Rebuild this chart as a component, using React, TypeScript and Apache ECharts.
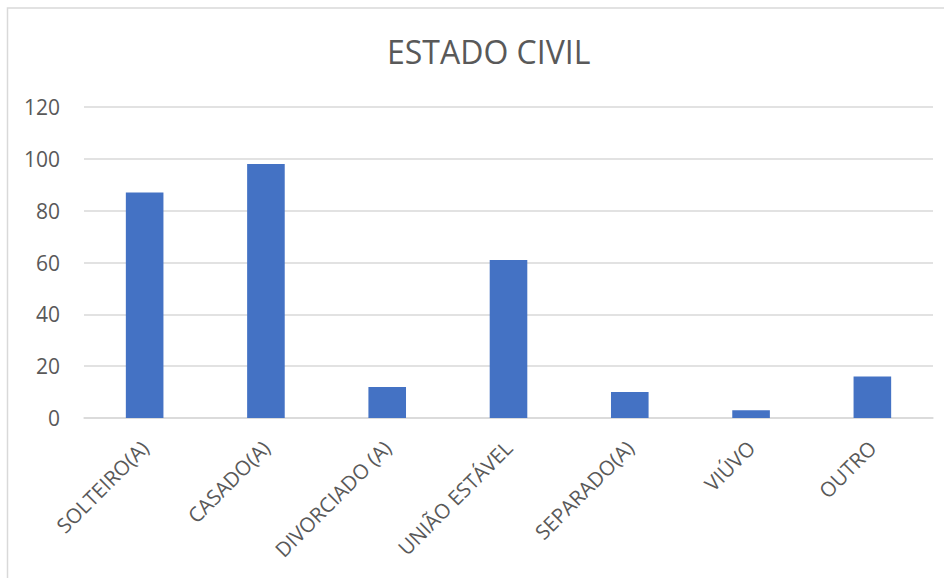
import React, { useEffect, useRef } from "react";
import * as echarts from "echarts";

const categories = ["SOLTEIRO(A)", "CASADO(A)", "DIVORCIADO (A)", "UNIÃO ESTÁVEL", "SEPARADO(A)", "VIÚVO", "OUTRO"];
const values = [87, 98, 12, 61, 10, 3, 16];
const titleText = "ESTADO CIVIL";

export default function App() {
  const ref = useRef<HTMLDivElement>(null);
  useEffect(() => {
    const chart = echarts.init(ref.current!, null, { renderer: "svg" });
    const font = "'Open Sans', sans-serif";
    chart.setOption({
      animation: false,
      backgroundColor: "#ffffff",
      title: {
        text: titleText,
        left: 382,
        top: 30,
        textStyle: { fontFamily: font, fontSize: 32, fontWeight: "normal", color: "#595959" },
      },
      graphic: [
        {
          type: "rect",
          shape: { x: 7.5, y: 8, width: 960, height: 600 },
          style: { fill: "none", stroke: "#d9d9d9", lineWidth: 1.5 },
          silent: true,
        },
      ],
      grid: { left: 84, right: 11, top: 107, bottom: 160, containLabel: false },
      xAxis: {
        type: "category",
        data: categories,
        axisLine: { show: true, lineStyle: { color: "#d9d9d9", width: 1.5 } },
        axisTick: { show: false },
        axisLabel: {
          rotate: 45,
          interval: 0,
          margin: 26,
          fontFamily: font,
          fontSize: 20.5,
          color: "#595959",
        },
      },
      yAxis: {
        type: "value",
        min: 0,
        max: 120,
        interval: 20,
        axisLine: { show: false },
        axisTick: { show: false },
        splitLine: { lineStyle: { color: "#d9d9d9", width: 1.5 } },
        axisLabel: { fontFamily: font, fontSize: 21, color: "#595959", margin: 24 },
      },
      series: [
        {
          type: "bar",
          data: values,
          barWidth: "31%",
          itemStyle: { color: "#4472C4" },
        },
      ],
    });
    return () => chart.dispose();
  }, []);
  return <div ref={ref} style={{ position: "absolute", left: 0, top: 0, width: 944, height: 578 }} />;
}
